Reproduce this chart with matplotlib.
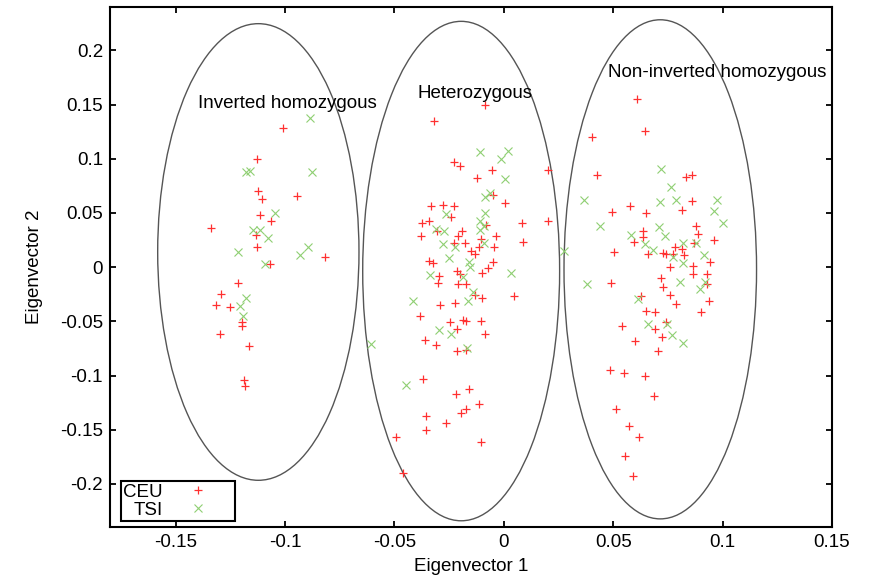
import matplotlib
matplotlib.use("Agg")
import matplotlib.pyplot as plt
from matplotlib.patches import Ellipse

plt.rcParams['font.family'] = ['Liberation Sans', 'DejaVu Sans']

# CEU samples (red +)
ceu_x = [-0.1009, -0.1129, -0.1124, -0.1106, -0.0944, -0.1116, -0.1062, -0.1338, -0.1134, -0.1129,
         -0.0816, -0.1069, -0.1213, -0.1291, -0.1316, -0.1252, -0.1198, -0.1198, -0.1296, -0.1165,
         -0.1188, -0.1183,
         -0.0088, -0.0319, -0.0228, -0.0201, -0.0052, -0.0121, 0.0200, -0.0049, 0.0004, -0.0334,
         -0.0278, -0.0227, -0.0243, -0.0372, -0.0342, 0.0085, 0.0201, -0.0083, -0.0305, -0.0377,
         -0.0193, -0.0034, -0.0209, -0.0228, -0.0178, -0.0103, -0.0044, 0.0088, -0.0114, -0.0149,
         -0.0133, -0.0342, -0.0326, -0.0049, -0.0072, -0.0098, -0.0216, -0.0201, -0.0298, -0.0301,
         -0.0174, -0.0209, 0.0047, -0.0133, -0.0098, -0.0224, -0.0291, -0.0381, -0.0245, -0.0186,
         -0.0174, -0.0103, -0.0216, -0.0088, -0.0359, -0.0309, -0.0214, -0.0172, -0.0370, -0.0158,
         -0.0219, -0.0114, -0.0174, -0.0198, -0.0357, -0.0266, -0.0354, -0.0494, -0.0105, -0.0461,
         0.0607, 0.0643, 0.0405, 0.0426, 0.0831, 0.0862, 0.0859, 0.0814, 0.0494, 0.0577,
         0.0649, 0.0879, 0.0888, 0.0637, 0.0634, 0.0594, 0.0962, 0.0867, 0.0503, 0.0661,
         0.0728, 0.0740, 0.0771, 0.0782, 0.0814, 0.0824, 0.0761, 0.0942, 0.0865, 0.0865,
         0.0929, 0.0720, 0.0728, 0.0492, 0.0929, 0.0761, 0.0625, 0.0787, 0.0938, 0.0899,
         0.0652, 0.0692, 0.0541, 0.0692, 0.0740, 0.0724, 0.0598, 0.0705, 0.0486, 0.0550,
         0.0646, 0.0686, 0.0512, 0.0573, 0.0617, 0.0556, 0.0592]
ceu_y = [0.128, 0.100, 0.070, 0.063, 0.066, 0.048, 0.043, 0.036, 0.030, 0.019,
         0.009, 0.003, -0.015, -0.025, -0.035, -0.037, -0.051, -0.054, -0.062, -0.073,
         -0.104, -0.110,
         0.150, 0.135, 0.097, 0.093, 0.090, 0.082, 0.090, 0.067, 0.059, 0.056,
         0.057, 0.056, 0.046, 0.041, 0.043, 0.041, 0.043, 0.039, 0.033, 0.029,
         0.033, 0.029, 0.029, 0.022, 0.022, 0.026, 0.019, 0.023, 0.019, 0.015,
         0.012, 0.006, 0.004, 0.005, -0.001, -0.005, -0.004, -0.006, -0.008, -0.015,
         -0.016, -0.016, -0.027, -0.026, -0.028, -0.033, -0.035, -0.045, -0.051, -0.049,
         -0.050, -0.050, -0.057, -0.062, -0.067, -0.072, -0.077, -0.076, -0.103, -0.112,
         -0.117, -0.126, -0.131, -0.135, -0.137, -0.144, -0.150, -0.157, -0.161, -0.190,
         0.155, 0.126, 0.120, 0.085, 0.083, 0.085, 0.061, 0.053, 0.051, 0.056,
         0.050, 0.038, 0.031, 0.033, 0.028, 0.023, 0.025, 0.022, 0.014, 0.012,
         0.013, 0.012, 0.012, 0.019, 0.017, 0.011, 0.000, 0.005, 0.001, -0.006,
         -0.006, -0.010, -0.018, -0.015, -0.016, -0.026, -0.027, -0.034, -0.031, -0.041,
         -0.040, -0.041, -0.054, -0.057, -0.051, -0.064, -0.068, -0.077, -0.095, -0.098,
         -0.100, -0.119, -0.131, -0.147, -0.157, -0.174, -0.193]

# TSI samples (green x)
tsi_x = [-0.0887, -0.1177, -0.1162, -0.0879, -0.1048, -0.1147, -0.1116, -0.1078, -0.1213, -0.0896,
         -0.0933, -0.1090, -0.1179, -0.1205, -0.1191,
         -0.0107, 0.0019, -0.0014, 0.0007, -0.0088, -0.0064, -0.0266, -0.0086, -0.0110, -0.0311,
         -0.0275, -0.0092, -0.0107, -0.0278, -0.0092, -0.0224, -0.0251, -0.0159, -0.0153, -0.0336,
         -0.0186, 0.0034, 0.0275, -0.0141, -0.0416, -0.0163, -0.0296, -0.0243, -0.0168, -0.0606,
         -0.0449,
         0.0720, 0.0763, 0.0365, 0.0713, 0.0787, 0.0975, 0.0960, 0.0439, 0.0708, 0.0738,
         0.0583, 0.1003, 0.0643, 0.0683, 0.0820, 0.0880, 0.0774, 0.0817, 0.0914, 0.0382,
         0.0805, 0.0896, 0.0918, 0.0614, 0.0660, 0.0746, 0.0770, 0.0820]
tsi_y = [0.138, 0.088, 0.089, 0.088, 0.050, 0.034, 0.034, 0.027, 0.014, 0.019,
         0.011, 0.003, -0.028, -0.036, -0.045,
         0.106, 0.107, 0.100, 0.081, 0.065, 0.068, 0.049, 0.050, 0.043, 0.035,
         0.033, 0.038, 0.034, 0.021, 0.022, 0.019, 0.008, 0.005, 0.000, -0.007,
         -0.009, -0.005, 0.015, -0.023, -0.031, -0.031, -0.058, -0.062, -0.075, -0.071,
         -0.109,
         0.091, 0.074, 0.062, 0.060, 0.062, 0.062, 0.052, 0.038, 0.037, 0.029,
         0.030, 0.041, 0.021, 0.016, 0.022, 0.022, 0.009, 0.004, 0.011, -0.016,
         -0.014, -0.020, -0.014, -0.029, -0.052, -0.052, -0.063, -0.070]

# Cluster ellipses and labels
cluster_names = ['Inverted homozygous', 'Heterozygous', 'Non-inverted homozygous']
ell_cx = [-0.1122, -0.0195, 0.0715]
ell_cy = [0.0140, -0.0036, -0.0020]
ell_w = [0.0920, 0.0900, 0.0880]
ell_h = [0.4213, 0.4608, 0.4605]
label_x = [-0.0990, -0.0133, 0.0976]
label_y = [0.1508, 0.1600, 0.1793]

xticks = [-0.15, -0.1, -0.05, 0, 0.05, 0.1, 0.15]
xtick_labels = ['-0.15', '-0.1', '-0.05', '0', '0.05', '0.1', '0.15']
yticks = [-0.2, -0.15, -0.1, -0.05, 0, 0.05, 0.1, 0.15, 0.2]
ytick_labels = ['-0.2', '-0.15', '-0.1', '-0.05', '0', '0.05', '0.1', '0.15', '0.2']

FS = 13.5

fig = plt.figure(figsize=(8.75, 5.86), dpi=100)
ax = fig.add_axes([0.1257, 0.1002, 0.8252, 0.8878])

for cx, cy, w, h in zip(ell_cx, ell_cy, ell_w, ell_h):
    ax.add_patch(Ellipse((cx, cy), w, h, fill=False, edgecolor='#555555', linewidth=1.0))

ax.plot(ceu_x, ceu_y, linestyle='none', marker='+', markersize=6.0, markeredgewidth=0.9,
        color='#ff3030', label='CEU')
ax.plot(tsi_x, tsi_y, linestyle='none', marker='x', markersize=6.3, markeredgewidth=0.8,
        color='#8fcf72', label='TSI')

for name, lx, ly in zip(cluster_names, label_x, label_y):
    ax.text(lx, ly, name, ha='center', va='center', fontsize=FS)

ax.set_xlim(-0.18, 0.15)
ax.set_ylim(-0.24, 0.24)
ax.set_xticks(xticks)
ax.set_xticklabels(xtick_labels)
ax.set_yticks(yticks)
ax.set_yticklabels(ytick_labels)
ax.tick_params(direction='in', top=True, right=True, length=4.5, width=1.3,
               labelsize=FS, pad=5)
for s in ax.spines.values():
    s.set_linewidth(1.5)

ax.set_xlabel('Eigenvector 1', fontsize=FS, labelpad=5)
ax.set_ylabel('Eigenvector 2', fontsize=FS, labelpad=12)

leg = ax.legend(loc='lower left', bbox_to_anchor=(0.015, 0.012), borderaxespad=0,
                markerfirst=False, fancybox=False, framealpha=1, edgecolor='black',
                fontsize=FS, handlelength=3.7, handletextpad=0.05, labelspacing=0.05,
                borderpad=0.12)
leg.get_frame().set_linewidth(1.5)

fig.savefig('out.png', dpi=100)
